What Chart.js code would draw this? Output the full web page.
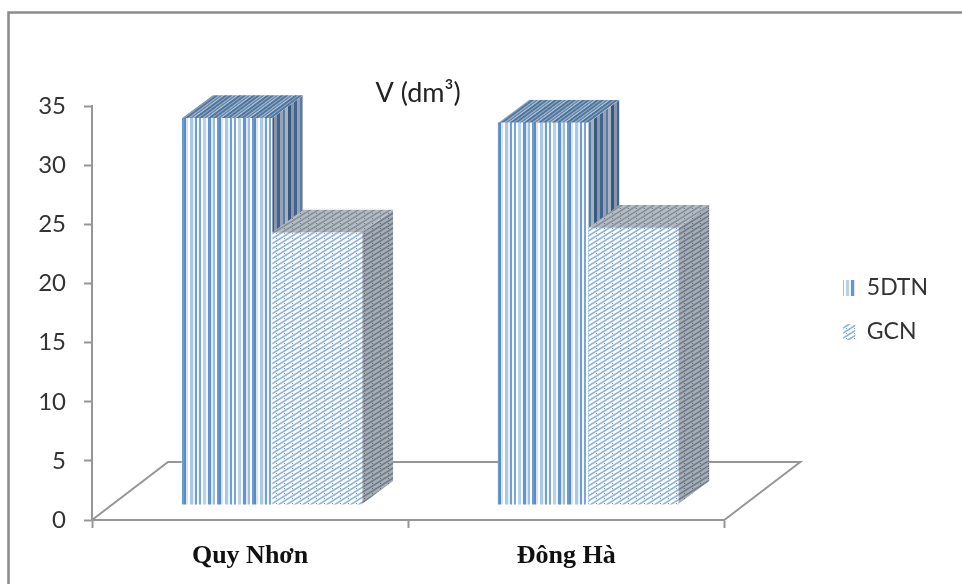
<!DOCTYPE html>
<html>
<head>
<meta charset="utf-8">
<style>
  html, body { margin: 0; padding: 0; background: #fff; }
  #wrap { width: 962px; height: 584px; overflow: hidden; }
</style>
</head>
<body>
<div id="wrap"><canvas id="chart" width="962" height="584"></canvas></div>
<script src="https://cdn.jsdelivr.net/npm/chart.js@4"></script>
<script>
// values
const categories = ['Quy Nhơn', 'Đông Hà'];
const seriesNames = ['5DTN', 'GCN'];
const values5dtn = [34, 33.6];
const valuesGcn = [24.3, 24.7];
const yTicks = [0, 5, 10, 15, 20, 25, 30, 35];

const BAR_WIDTH = 90;
const BAR_BASE = 1.35;     // bars stand on the floor, above the axis zero
const SHIFT_X = 22;        // bars sit in the middle of the floor, right of the category centre
const DEPTH_X = 31;
const DEPTH_Y = -23;
const FLOOR_X = 76;
const FLOOR_Y = -58;
const GRAY = '#969696';

function tile(w, h, paint) {
    const c = document.createElement('canvas');
    c.width = w;
    c.height = h;
    paint(c.getContext('2d'));
    return c;
}

function stripes(colors, widths) {
    const total = widths.reduce((a, b) => a + b, 0);
    return tile(total, 4, g => {
        let x = 0;
        widths.forEach((w, i) => {
            g.fillStyle = colors[i];
            g.fillRect(x, 0, w, 4);
            x += w;
        });
    });
}

function hatch(bg, line, dot) {
    return tile(8, 5, g => {
        g.fillStyle = bg;
        g.fillRect(0, 0, 8, 5);
        g.strokeStyle = line;
        g.lineWidth = 1.5;
        // lines run past the tile so the seams do not show
        [-8, 0, 8].forEach(o => {
            g.beginPath();
            g.moveTo(o - 8, 10);
            g.lineTo(o + 16, -5);
            g.stroke();
        });
        if (dot) {
            g.fillStyle = dot;
            g.fillRect(6, 3, 1, 1);
        }
    });
}

const ctx = document.getElementById('chart').getContext('2d');

const frontStripes = stripes(
    ['#f4f8fc', '#7aa5d4', '#ffffff', '#b9d2ec', '#f4f8fc', '#6394cb', '#dbe7f5', '#9dbde2', '#ffffff', '#6d9bd0', '#5a8bc3', '#d5e3f3', '#ffffff', '#a9c7e7', '#e9f1f9', '#6f9ed3'],
    [2, 2, 2, 3, 2, 3, 2, 2, 2, 2, 2, 2, 2, 3, 2, 2]
);
const sideStripes = stripes(['#40648f', '#95a2b3', '#5a7ba2', '#a7b2c0', '#37587f', '#8796aa'], [3, 3, 2, 3, 3, 3]);
const topStripes = stripes(['#53799f', '#99adc4', '#6487af', '#aebccb', '#4f74a0', '#84a0bf'], [3, 2, 2, 2, 3, 2]);
const frontHatch = hatch('#fbfdff', '#8fb1da', '#6f97c7');
const sideHatch = hatch('#a6aeb7', '#6f7b88', '#59646f');
const topHatch = hatch('#b4bbc3', '#858f9a', '#6b7681');

const patterns = [
    { front: ctx.createPattern(frontStripes, 'repeat'), side: ctx.createPattern(sideStripes, 'repeat'), top: ctx.createPattern(topStripes, 'repeat') },
    { front: ctx.createPattern(frontHatch, 'repeat'), side: ctx.createPattern(sideHatch, 'repeat'), top: ctx.createPattern(topHatch, 'repeat') }
];
// the top faces of the striped bars run along the depth direction
patterns[0].top.setTransform(new DOMMatrix([1, 0, DEPTH_X / DEPTH_Y, 1, 0, 0]));

function poly(g, pts, fill) {
    g.beginPath();
    pts.forEach((p, i) => (i ? g.lineTo(p[0], p[1]) : g.moveTo(p[0], p[1])));
    g.closePath();
    g.fillStyle = fill;
    g.fill();
}

// the frame, the floor and the 3D faces around the library's bars
const depthPlugin = {
    id: 'depth',
    beforeDraw(chart) {
        const g = chart.ctx;
        const a = chart.chartArea;
        g.save();
        g.strokeStyle = '#8a8a8a';
        g.lineWidth = 2.5;
        g.beginPath();
        g.moveTo(8.5, chart.height);
        g.lineTo(8.5, 12.5);
        g.lineTo(chart.width, 12.5);
        g.stroke();
        g.strokeStyle = GRAY;
        g.lineWidth = 2;
        g.beginPath();
        g.moveTo(a.left, a.bottom);
        g.lineTo(a.left + FLOOR_X, a.bottom + FLOOR_Y);
        g.lineTo(a.right + FLOOR_X, a.bottom + FLOOR_Y);
        g.lineTo(a.right, a.bottom);
        g.stroke();
        g.restore();
    },
    beforeDatasetsDraw(chart) {
        const g = chart.ctx;
        g.save();
        g.translate(SHIFT_X, 0);
        chart.data.datasets.forEach((ds, i) => {
            chart.getDatasetMeta(i).data.forEach(bar => {
                const left = bar.x - bar.width / 2;
                const right = bar.x + bar.width / 2;
                poly(g, [[right, bar.y], [right + DEPTH_X, bar.y + DEPTH_Y], [right + DEPTH_X, bar.base + DEPTH_Y], [right, bar.base]], patterns[i].side);
                poly(g, [[left, bar.y], [left + DEPTH_X, bar.y + DEPTH_Y], [right + DEPTH_X, bar.y + DEPTH_Y], [right, bar.y]], patterns[i].top);
            });
        });
    },
    afterDatasetsDraw(chart) {
        chart.ctx.restore();
    },
    afterLayout(chart) {
        // title and legend sit off the centre the layout gives them
        chart.titleBlock.left += 10;
        chart.titleBlock.right += 10;
        chart.titleBlock.top += 3;
        chart.titleBlock.bottom += 3;
        chart.legend.top -= 19;
        chart.legend.bottom -= 19;
    }
};

// empty box that keeps the legend away from the plot area, the floor runs through this gap
const legendGapPlugin = {
    id: 'legendGap',
    beforeInit(chart) {
        Chart.layouts.addBox(chart, {
            position: 'right',
            weight: 1,
            fullSize: false,
            options: {},
            width: 98,
            height: 0,
            left: 0, top: 0, right: 0, bottom: 0,
            isHorizontal() { return false; },
            update(maxWidth, maxHeight) { this.height = maxHeight; return { w: this.width, h: maxHeight }; },
            draw() {}
        });
    }
};

const progressChart = new Chart(ctx, {
    type: 'bar',
    data: {
        labels: categories,
        datasets: [
            { label: seriesNames[0], data: values5dtn, backgroundColor: patterns[0].front },
            { label: seriesNames[1], data: valuesGcn, backgroundColor: patterns[1].front }
        ]
    },
    plugins: [depthPlugin, legendGapPlugin],
    options: {
        responsive: false,
        animation: false,
        barThickness: BAR_WIDTH,
        base: BAR_BASE,
        layout: { padding: { top: 74, right: 24, bottom: 0, left: 0 } },
        scales: {
            x: {
                afterFit(scale) { scale.height = 64; },
                border: { color: GRAY, width: 2 },
                grid: { drawOnChartArea: false, drawTicks: true, tickLength: 8, tickColor: GRAY, tickWidth: 2 },
                ticks: {
                    padding: 13,
                    color: '#111111',
                    font: { family: '"Liberation Serif"', size: 26, weight: 'bold' },
                    maxRotation: 0
                }
            },
            y: {
                min: 0,
                max: 35,
                afterFit(scale) { scale.width = 92; },
                afterBuildTicks(scale) { scale.ticks = yTicks.map(v => ({ value: v })); },
                border: { color: GRAY, width: 2 },
                grid: { drawOnChartArea: false, drawTicks: true, tickLength: 8, tickColor: GRAY, tickWidth: 2 },
                ticks: {
                    padding: 18,
                    color: '#333333',
                    font: { family: 'Lato', size: 24 }
                }
            }
        },
        plugins: {
            title: {
                display: true,
                text: 'V (dm³)',
                color: '#222222',
                fullSize: false,
                font: { family: 'Lato', size: 27, weight: 'normal' },
                padding: { top: 0, bottom: 0 }
            },
            legend: {
                position: 'right',
                labels: {
                    boxWidth: 12,
                    boxHeight: 16,
                    padding: 21,
                    color: '#333333',
                    font: { family: 'Lato', size: 23 }
                }
            },
            tooltip: { enabled: false }
        }
    }
});
</script>
</body>
</html>
